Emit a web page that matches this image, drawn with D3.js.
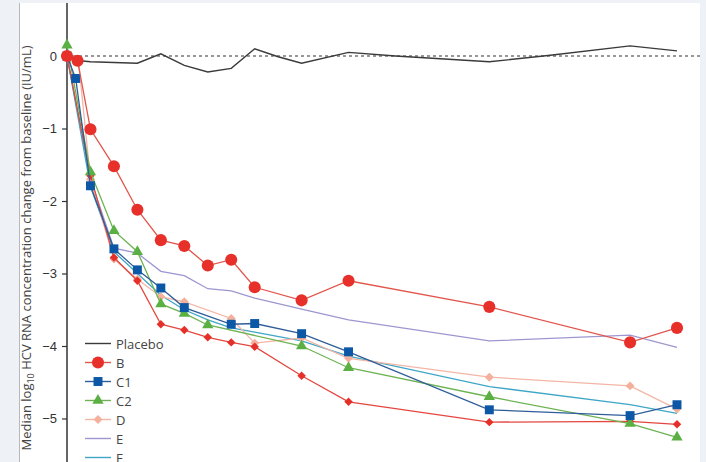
<!DOCTYPE html>
<html>
<head>
<meta charset="utf-8">
<script src="https://cdn.jsdelivr.net/npm/d3@7"></script>
<style>
  body { margin: 0; background: #eef1f6; }
  svg { display: block; font-family: "Open Sans", "Noto Sans", sans-serif; }
</style>
</head>
<body>
<svg id="chart" width="706" height="462"></svg>
<script>
"use strict";

// days after first dose, median log10 change
const placeboDays = [0, 0.55, 1, 2, 3, 4, 5, 6, 7, 8, 9, 10, 12, 14, 18, 20.6, 24, 26];
const placeboChange = [0, -0.065, -0.08, -0.09, -0.1, 0.03, -0.13, -0.22, -0.17, 0.1, -0.01, -0.1, 0.05, 0, -0.08, 0.01, 0.14, 0.07];

const bDays = [0, 0.45, 1, 2, 3, 4, 5, 6, 7, 8, 10, 12, 18, 24, 26];
const bChange = [0, -0.065, -1.01, -1.52, -2.12, -2.54, -2.62, -2.89, -2.81, -3.19, -3.37, -3.1, -3.46, -3.95, -3.75];

const c1Days = [0, 0.37, 1, 2, 3, 4, 5, 7, 8, 10, 12, 18, 24, 26];
const c1Change = [0, -0.31, -1.79, -2.66, -2.95, -3.2, -3.47, -3.7, -3.69, -3.83, -4.08, -4.88, -4.96, -4.81];

const c2Days = [0, 1, 2, 3, 4, 5, 6, 10, 12, 18, 24, 26];
const c2Change = [0.15, -1.6, -2.41, -2.7, -3.42, -3.55, -3.71, -4.0, -4.3, -4.7, -5.07, -5.26];

const dDays = [0, 0.5, 1, 2, 3, 4, 5, 7, 8, 10, 12, 18, 24, 26];
const dChange = [0, -0.1, -1.7, -2.8, -3.08, -3.32, -3.39, -3.62, -3.96, -3.89, -4.17, -4.43, -4.55, -4.87];

const eDays = [0, 1, 2, 3, 4, 5, 6, 7, 8, 10, 12, 18, 24, 26];
const eChange = [0, -1.7, -2.65, -2.72, -2.97, -3.03, -3.21, -3.24, -3.34, -3.49, -3.64, -3.93, -3.85, -4.02];

const fDays = [0, 1, 2, 3, 4, 5, 6, 7, 8, 10, 12, 18, 24, 26];
const fChange = [0, -1.8, -2.7, -3.0, -3.3, -3.5, -3.64, -3.75, -3.81, -3.93, -4.14, -4.56, -4.81, -4.93];

// lower red diamond series (its legend row is cut off in the picture)
const gDays = [0, 1, 2, 3, 4, 5, 6, 7, 8, 10, 12, 18, 24, 26];
const gChange = [0, -1.65, -2.78, -3.1, -3.7, -3.78, -3.88, -3.95, -4.01, -4.41, -4.77, -5.05, -5.04, -5.08];

const yTicks = [0, -1, -2, -3, -4, -5];
const legendNames = ["Placebo", "B", "C1", "C2", "D", "E", "F"];

function zip(days, vals) {
  return days.map((d, i) => [d, vals[i]]);
}

const series = [
  { name: "E", data: zip(eDays, eChange), line: "#9d97d0", marker: null },
  { name: "F", data: zip(fDays, fChange), line: "#3fa6c6", marker: null },
  { name: "Placebo", data: zip(placeboDays, placeboChange), line: "#3a3a3a", marker: null },
  { name: "D", data: zip(dDays, dChange), line: "#f3b6a6", fill: "#f4b09c", marker: "diamond", size: 40 },
  { name: "G", data: zip(gDays, gChange), line: "#e4473f", fill: "#e5302a", marker: "diamond", size: 36 },
  { name: "C2", data: zip(c2Days, c2Change), line: "#6db352", fill: "#5bb043", marker: "triangle", size: 55 },
  { name: "C1", data: zip(c1Days, c1Change), line: "#2f5d99", fill: "#0c58a6", marker: "square", size: 80 },
  { name: "B", data: zip(bDays, bChange), line: "#e2564c", fill: "#e8302a", marker: "circle", size: 115 }
];

const symbols = {
  circle: d3.symbolCircle,
  square: d3.symbolSquare,
  triangle: d3.symbolTriangle,
  diamond: d3.symbolSquare
};

function markerTransform(kind, px, py) {
  let t = "translate(" + px + "," + py + ")";
  if (kind === "diamond") t += " rotate(45)";
  return t;
}

const svg = d3.select("#chart");
const W = 706, H = 462;

// page frame
svg.append("rect").attr("width", W).attr("height", H).attr("fill", "#eef1f6");
svg.append("rect").attr("x", 19).attr("y", 3).attr("width", 681).attr("height", H - 3).attr("fill", "#fff");
svg.append("line").attr("x1", 19.5).attr("x2", 19.5).attr("y1", 3).attr("y2", H)
  .attr("stroke", "#b8b8b8").attr("stroke-width", 1);

const x = d3.scaleLinear().domain([0, 26]).range([67, 677]);
const y = d3.scaleLinear().domain([0, -5]).range([56, 418.5]);

// y axis
const yAxis = svg.append("g")
  .attr("transform", "translate(67,0)")
  .call(d3.axisLeft(y).tickValues(yTicks).tickSize(5).tickPadding(5)
    .tickFormat(d => d === 0 ? "0" : "\u2212" + Math.abs(d)));
yAxis.select(".domain").remove();
yAxis.selectAll(".tick line").attr("stroke", "#333").attr("stroke-width", 1.2);
yAxis.selectAll(".tick text").attr("fill", "#333").style("font-size", "13px");

svg.append("line").attr("x1", 67).attr("x2", 67).attr("y1", 3).attr("y2", H)
  .attr("stroke", "#333").attr("stroke-width", 1.5);

// y title
const title = svg.append("text")
  .attr("transform", "translate(31,248) rotate(-90)")
  .attr("text-anchor", "middle")
  .attr("fill", "#444")
  .style("font-size", "13px");
title.append("tspan").text("Median log");
title.append("tspan").text("10").style("font-size", "9px").attr("dy", "3");
title.append("tspan").text(" HCV RNA concentration change from baseline (IU/mL)").attr("dy", "-3");

// zero reference
svg.append("line")
  .attr("x1", 67).attr("x2", 700)
  .attr("y1", y(0)).attr("y2", y(0))
  .attr("stroke", "#777").attr("stroke-width", 1.3)
  .attr("stroke-dasharray", "3,3");

const line = d3.line().x(d => x(d[0])).y(d => y(d[1]));

series.forEach(s => {
  const g = svg.append("g");
  g.append("path")
    .attr("d", line(s.data))
    .attr("fill", "none")
    .attr("stroke", s.line)
    .attr("stroke-width", s.name === "Placebo" ? 1.4 : 1.3);
  if (s.marker) {
    g.selectAll("path.m").data(s.data).enter().append("path")
      .attr("class", "m")
      .attr("transform", d => markerTransform(s.marker, x(d[0]), y(d[1])))
      .attr("d", d3.symbol().type(symbols[s.marker]).size(s.size))
      .attr("fill", s.fill);
  }
});

// legend
const byName = {};
series.forEach(s => { byName[s.name] = s; });
const legend = svg.append("g");
legendNames.forEach((n, i) => {
  const s = byName[n];
  const ly = 343.5 + i * 19;
  legend.append("line")
    .attr("x1", 85).attr("x2", 111).attr("y1", ly).attr("y2", ly)
    .attr("stroke", s.line).attr("stroke-width", 1.4);
  if (s.marker) {
    legend.append("path")
      .attr("transform", markerTransform(s.marker, 98, ly))
      .attr("d", d3.symbol().type(symbols[s.marker]).size(s.size))
      .attr("fill", s.fill);
  }
  legend.append("text")
    .attr("x", 116).attr("y", ly + 5)
    .attr("fill", "#444")
    .style("font-size", "13px")
    .text(n);
});
</script>
</body>
</html>
